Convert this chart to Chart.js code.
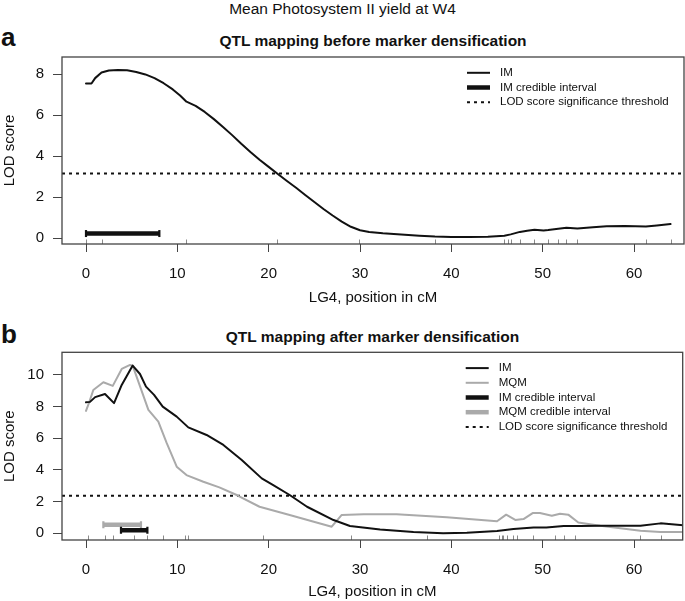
<!DOCTYPE html>
<html><head><meta charset="utf-8">
<script src="https://cdn.jsdelivr.net/npm/chart.js@4.4.1/dist/chart.umd.min.js"></script>
<style>
html,body{margin:0;padding:0;background:#fff;width:685px;height:601px;overflow:hidden;position:relative;font-family:'Liberation Sans',Arial,sans-serif;color:#111}
.t{position:absolute;white-space:nowrap;line-height:1}
canvas{position:absolute;left:0}
</style></head><body>
<div class="t" style="left:0;width:685px;text-align:center;top:1px;font-size:15.5px">Mean Photosystem II yield at W4</div>
<div class="t" style="left:1px;top:24px;font-size:26px;font-weight:bold">a</div>
<div class="t" style="left:62px;width:622px;text-align:center;top:33.4px;font-size:15.5px;font-weight:bold">QTL mapping before marker densification</div>
<div class="t" style="left:1px;top:321px;font-size:26px;font-weight:bold">b</div>
<div class="t" style="left:62px;width:621px;text-align:center;top:328.6px;font-size:15.5px;font-weight:bold">QTL mapping after marker densification</div>
<canvas id="c1" width="685" height="310" style="top:0"></canvas>
<canvas id="c2" width="685" height="291" style="top:310px"></canvas>
<script>
const FONT = "'Liberation Sans', Arial, sans-serif";

// ---------- shared axis labels ----------
const xTicks = [0, 10, 20, 30, 40, 50, 60];
const yTicksA = [0, 2, 4, 6, 8];
const yTicksB = [0, 2, 4, 6, 8, 10];
const xTitle = 'LG4, position in cM';
const yTitle = 'LOD score';

// ---------- panel a: before marker densification ----------
const posA = [0, 0.6, 1.0, 1.7, 2.5, 3.5, 4.5, 5.5, 6.5, 7.5, 8.5, 9.5, 10.3, 11.0, 12.0, 13.0, 14.0, 15.0, 16.0, 17.0, 18.0, 19.0, 20.0, 21.0, 22.0, 23.0, 24.0, 25.0, 26.0, 27.0, 28.0, 29.0, 30.0, 31.0, 32.5, 34.5, 36.5, 38.2, 40.0, 42.0, 44.0, 45.8, 46.5, 47.5, 48.3, 49.1, 50.1, 50.6, 51.7, 52.6, 53.8, 55.5, 57.0, 59.0, 61.3, 62.5, 64.0];
const imA  = [7.54, 7.54, 7.8, 8.07, 8.17, 8.2, 8.18, 8.1, 7.98, 7.8, 7.55, 7.25, 6.95, 6.65, 6.45, 6.15, 5.8, 5.42, 5.02, 4.6, 4.2, 3.82, 3.47, 3.12, 2.78, 2.45, 2.1, 1.76, 1.42, 1.1, 0.8, 0.55, 0.38, 0.3, 0.23, 0.17, 0.11, 0.07, 0.05, 0.05, 0.06, 0.11, 0.18, 0.3, 0.36, 0.4, 0.37, 0.39, 0.45, 0.5, 0.47, 0.53, 0.58, 0.59, 0.56, 0.61, 0.68];
const rugA = [0, 1.7, 11.0, 20.9, 29.9, 38.2, 45.8, 46.2, 46.5, 47.5, 49.1, 50.6, 51.7, 52.6, 53.8, 61.3, 64.0];
const ciImA = [0, 8.03];
const ciImLodA = 0.22;
const thrA = 3.15;

// ---------- panel b: after marker densification ----------
const posImB = [0, 0.44, 1.0, 2.08, 3.07, 3.91, 5.11, 5.91, 6.57, 7.45, 8.4, 9.93, 11.2, 13.2, 15.04, 17.05, 19.24, 20.5, 22.3, 24.2, 27.1, 28.9, 32.2, 35.85, 39.1, 41.7, 45.0, 46.8, 49.0, 50.4, 52.3, 54.1, 56.3, 60.7, 62.9, 65.5];
const imB    = [8.27, 8.3, 8.6, 8.8, 8.22, 9.37, 10.59, 10.06, 9.26, 8.74, 8.0, 7.37, 6.69, 6.21, 5.58, 4.63, 3.47, 3.05, 2.42, 1.68, 0.84, 0.46, 0.25, 0.08, 0.01, 0.03, 0.15, 0.27, 0.37, 0.37, 0.46, 0.46, 0.48, 0.48, 0.63, 0.5];
const posMqmB = [0, 0.37, 0.8, 1.9, 2.93, 3.91, 4.82, 5.11, 6.83, 7.92, 8.84, 9.93, 11.0, 12.85, 14.6, 16.5, 19.0, 22.3, 26.9, 28.0, 30.4, 34.0, 39.5, 45.0, 46.0, 47.0, 47.9, 48.9, 49.7, 51.0, 51.9, 52.8, 53.9, 56.3, 60.7, 62.9, 65.5];
const mqmB    = [7.73, 8.3, 9.05, 9.54, 9.31, 10.38, 10.63, 10.59, 7.79, 7.05, 5.69, 4.21, 3.68, 3.26, 2.9, 2.42, 1.68, 1.16, 0.42, 1.16, 1.2, 1.2, 1.01, 0.76, 1.18, 0.85, 0.9, 1.28, 1.28, 1.11, 1.24, 1.18, 0.69, 0.48, 0.16, 0.08, 0.08];
const rugB = [0.26, 2.08, 2.99, 5.26, 6.72, 8.4, 10.84, 11.2, 19.4, 29.0, 37.3, 45.2, 45.5, 45.7, 46.1, 46.8, 47.2, 48.9, 51.3, 52.3, 53.5, 60.7, 63.0];
const ciImB = [3.83, 6.72];
const ciImLodB = 0.19;
const ciMqmB = [1.9, 6.02];
const ciMqmLodB = 0.54;
const thrB = 2.38;

const legendA = ['IM', 'IM credible interval', 'LOD score significance threshold'];
const legendB = ['IM', 'MQM', 'IM credible interval', 'MQM credible interval', 'LOD score significance threshold'];

const BLACK = '#111111';
const GREY = '#aaaaaa';
const XMIN = -2.628;

const pts = (xs, ys) => xs.map((x, i) => ({x: x, y: ys[i]}));
const seg = (xs, y) => xs.map(x => ({x: x, y: y}));

function curve(label, data, color) {
  return {label, data, showLine: true, borderColor: color, borderWidth: 2, pointRadius: 0,
    tension: 0, borderJoinStyle: 'round', borderCapStyle: 'round', legendType: 'line'};
}
function interval(label, data, color) {
  return {label, data, showLine: true, borderColor: color, borderWidth: 4.5, tension: 0,
    borderCapStyle: 'butt', pointStyle: 'line', pointRotation: 90, pointRadius: 3.5,
    pointBorderWidth: 2.2, pointBorderColor: color, pointBackgroundColor: color, legendType: 'thick'};
}
function threshold(label, y, xmax) {
  return {label, data: seg([XMIN, xmax], y), showLine: true, borderColor: BLACK, borderWidth: 2,
    borderDash: [3, 4], pointRadius: 0, tension: 0, legendType: 'dash'};
}

const rPlugin = {
  id: 'rstyle',
  afterDraw(chart, args, opts) {
    const {ctx, chartArea: a} = chart;
    const xs = chart.scales.x;
    ctx.save();
    ctx.strokeStyle = '#8a8a8a';
    ctx.lineWidth = 1;
    opts.rug.forEach(v => {
      const px = Math.round(xs.getPixelForValue(v)) + 0.5;
      ctx.beginPath(); ctx.moveTo(px, a.bottom); ctx.lineTo(px, a.bottom - 4.5); ctx.stroke();
    });
    ctx.strokeStyle = '#444';
    ctx.lineWidth = 1.3;
    ctx.strokeRect(a.left, a.top, a.right - a.left, a.bottom - a.top);
    // legend
    let y = a.top + 15.8;
    const lx0 = a.right - 217, lx1 = a.right - 194, tx = a.right - 184;
    chart.data.datasets.forEach(ds => {
      if (!ds.legend) return;
      ctx.save();
      ctx.strokeStyle = ds.borderColor;
      ctx.lineWidth = ds.borderWidth;
      ctx.setLineDash(ds.borderDash || []);
      ctx.lineCap = 'butt';
      ctx.beginPath(); ctx.moveTo(lx0, y); ctx.lineTo(lx1, y); ctx.stroke();
      ctx.restore();
      ctx.fillStyle = '#111';
      ctx.font = '11.5px ' + FONT;
      ctx.textBaseline = 'middle';
      ctx.textAlign = 'left';
      ctx.fillText(ds.label, tx, y);
      y += 14.7;
    });
    ctx.restore();
  }
};

function scales(ymin, ymax, yTicks, xmax, xAxisH, titlePadBottom) {
  return {
    x: {
      type: 'linear', min: XMIN, max: xmax,
      afterBuildTicks: s => { s.ticks = xTicks.map(v => ({value: v})); },
      afterFit: s => { s.height = xAxisH; },
      grid: {drawOnChartArea: false, drawTicks: true, tickLength: 8, color: '#444', lineWidth: 1},
      border: {display: false},
      ticks: {color: '#111', font: {family: FONT, size: 15}, padding: 12.5, maxRotation: 0, autoSkip: false},
      title: {display: true, text: xTitle, color: '#111', font: {family: FONT, size: 15}, padding: {top: 0, bottom: titlePadBottom}}
    },
    y: {
      type: 'linear', min: ymin, max: ymax,
      afterBuildTicks: s => { s.ticks = yTicks.map(v => ({value: v})); },
      afterFit: s => { s.width = 62; },
      grid: {drawOnChartArea: false, drawTicks: true, tickLength: 9, color: '#444', lineWidth: 1},
      border: {display: false},
      ticks: {color: '#111', font: {family: FONT, size: 15}, padding: 9, autoSkip: false},
      title: {display: true, text: yTitle, color: '#111', font: {family: FONT, size: 15}, padding: {top: 1, bottom: 0}}
    }
  };
}

function withLegend(ds, on) { ds.legend = on; return ds; }

// panel a
const XMAX_A = 65.47;
const dsA = [
  withLegend(curve(legendA[0], pts(posA, imA), BLACK), true),
  withLegend(interval(legendA[1], seg(ciImA, ciImLodA), BLACK), true),
  withLegend(threshold(legendA[2], thrA, XMAX_A), true)
];
new Chart(document.getElementById('c1'), {
  type: 'scatter',
  data: {datasets: dsA},
  options: {
    responsive: false, animation: false, devicePixelRatio: 1,
    layout: {padding: {left: 0, right: 1, top: 57, bottom: 0}, autoPadding: false},
    plugins: {legend: {display: false}, tooltip: {enabled: false}, rstyle: {rug: rugA}},
    scales: scales(-0.29, 8.83, yTicksA, XMAX_A, 66, 3)
  },
  plugins: [rPlugin]
});

// panel b
const XMAX_B = 65.33;
const dsB = [
  withLegend(curve(legendB[0], pts(posImB, imB), BLACK), true),
  withLegend(curve(legendB[1], pts(posMqmB, mqmB), GREY), true),
  withLegend(interval(legendB[2], seg(ciImB, ciImLodB), BLACK), true),
  withLegend(interval(legendB[3], seg(ciMqmB, ciMqmLodB), GREY), true),
  withLegend(threshold(legendB[4], thrB, XMAX_B), true)
];
new Chart(document.getElementById('c2'), {
  type: 'scatter',
  data: {datasets: dsB},
  options: {
    responsive: false, animation: false, devicePixelRatio: 1,
    layout: {padding: {left: 0, right: 2.3, top: 42.3, bottom: 0}, autoPadding: false},
    plugins: {legend: {display: false}, tooltip: {enabled: false}, rstyle: {rug: rugB}},
    scales: scales(-0.42, 11.43, yTicksB, XMAX_B, 61, 0)
  },
  plugins: [rPlugin]
});
</script>
</body></html>
